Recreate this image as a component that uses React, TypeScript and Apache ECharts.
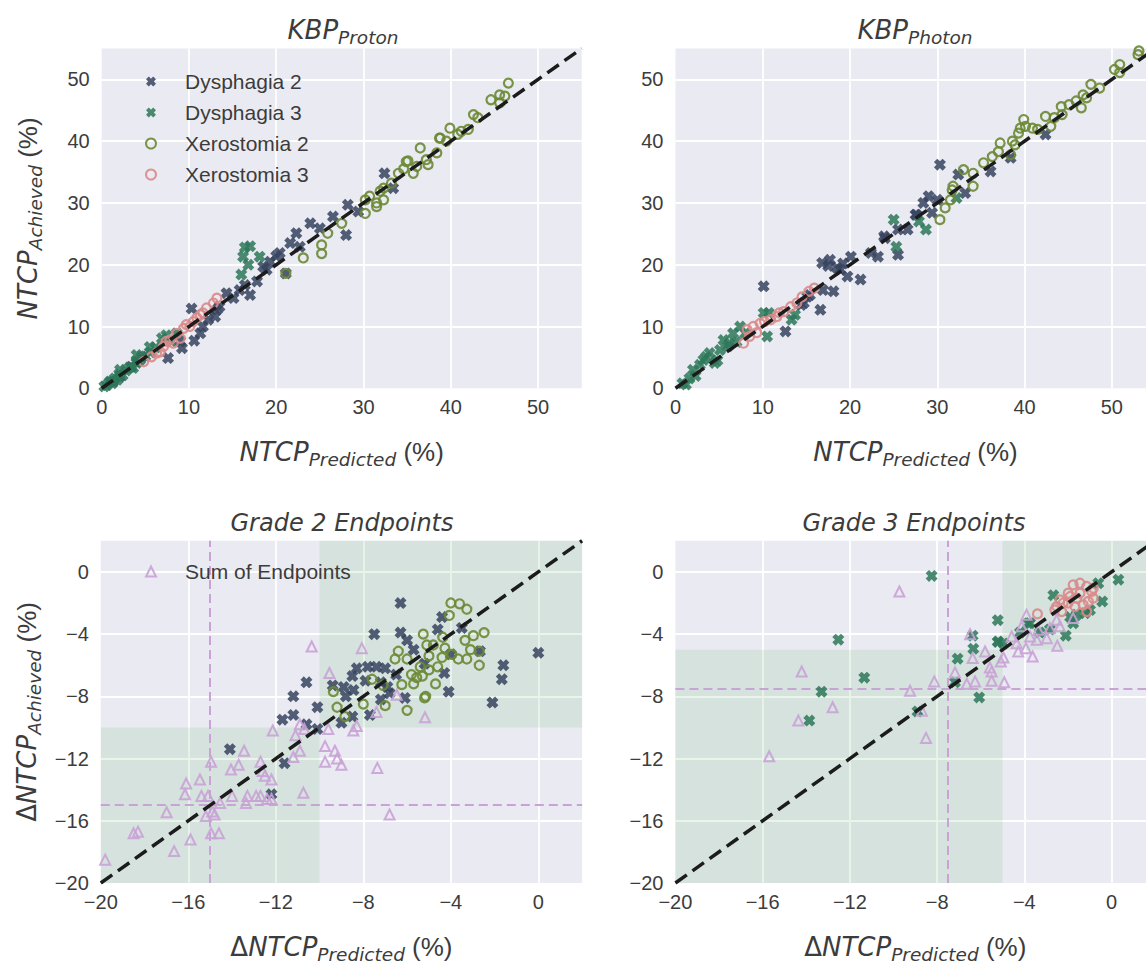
import React, { useEffect, useRef } from 'react';
import * as echarts from 'echarts';

// ---------- axis extents & ticks ----------
const topRange = [0, 55];
const bottomRange = [-20, 2];
const topTicks = [0, 10, 20, 30, 40, 50];
const bottomTicks = [-20, -16, -12, -8, -4, 0];

// ---------- KBP Proton ----------
const proD2 = [[1.3,1.1],[2.1,1.9],[3.4,3.5],[4.0,4.3],[4.6,5.1],[7.6,4.9],[9.0,7.6],[9.2,6.5],[10.6,7.7],[10.3,12.9],[11.3,8.9],[11.6,10.0],[12.2,11.1],[13.0,11.6],[13.2,12.7],[13.5,13.2],[14.3,15.4],[15.1,14.6],[15.8,15.9],[16.4,16.7],[17.0,15.1],[17.8,17.3],[18.5,19.7],[18.9,19.2],[19.3,20.5],[20.0,21.4],[20.4,21.9],[21.1,18.6],[21.6,23.5],[22.3,25.1],[22.7,22.9],[23.9,26.7],[25.0,25.9],[26.5,27.8],[28.0,24.8],[28.2,29.7],[29.4,28.6],[32.4,34.8],[33.4,32.4]];
const proD3 = [[0.3,0.3],[0.6,0.5],[0.9,1.0],[1.0,1.1],[1.2,0.8],[1.5,1.6],[1.8,1.4],[2.0,2.3],[2.1,3.0],[2.4,2.1],[2.8,2.9],[3.2,3.4],[3.6,3.3],[4.0,4.1],[4.0,5.4],[4.4,4.6],[5.0,5.2],[5.5,6.7],[5.6,5.8],[6.2,6.6],[6.9,8.1],[7.4,8.6],[8.0,7.6],[8.6,8.9],[16.0,18.4],[16.2,21.3],[16.8,20.0],[17.0,23.0],[16.4,22.8],[18.1,21.3]];
const proX2 = [[21.1,18.6],[23.1,21.1],[25.2,21.8],[25.2,23.2],[25.9,25.1],[27.5,26.7],[30.2,28.3],[30.2,30.5],[30.7,31.1],[31.5,29.4],[31.5,30.0],[31.9,31.9],[32.3,30.5],[32.3,32.4],[33.2,33.2],[34.0,34.8],[34.6,35.5],[34.9,36.7],[35.1,36.8],[35.7,34.8],[36.1,35.9],[36.5,38.9],[37.2,37.0],[37.4,36.2],[38.4,38.1],[38.7,40.5],[38.8,40.5],[39.5,40.0],[39.9,42.1],[40.8,41.1],[41.2,41.6],[42.0,41.9],[42.6,44.3],[43.1,43.8],[44.6,46.7],[45.6,46.2],[45.6,47.5],[46.2,47.3],[46.6,49.4]];
const proX3 = [[4.8,4.3],[5.7,5.1],[6.3,5.7],[6.7,5.9],[7.1,6.8],[7.4,7.6],[7.8,7.8],[8.2,7.3],[8.6,8.9],[9.0,8.1],[9.4,9.7],[9.7,10.3],[10.1,10.0],[10.5,10.8],[10.9,11.4],[11.3,11.9],[11.6,12.2],[12.0,13.0],[12.8,13.8],[13.2,14.6]];

// ---------- KBP Photon ----------
const phoD2 = [[10.1,16.5],[12.6,9.2],[14.4,13.5],[14.7,13.8],[15.1,14.8],[15.4,15.1],[16.6,12.7],[16.8,20.3],[16.9,15.9],[17.5,19.8],[17.7,20.8],[18.1,15.7],[18.5,19.5],[18.9,19.2],[19.2,20.2],[19.7,18.1],[20.1,21.3],[21.2,17.6],[22.4,21.9],[23.2,21.3],[23.9,24.6],[24.0,24.3],[25.5,21.6],[25.5,25.7],[26.6,25.7],[27.5,28.1],[27.6,28.1],[28.4,30.0],[29.0,31.1],[29.4,28.4],[30.0,30.5],[30.3,36.2],[32.4,34.6],[33.2,31.6],[36.1,35.1],[38.4,37.3],[42.4,41.1]];
const phoD3 = [[0.8,0.8],[1.2,0.6],[1.6,1.6],[2.0,3.0],[2.3,2.0],[2.8,3.8],[3.2,4.6],[3.5,5.1],[3.9,5.7],[4.5,4.1],[4.8,4.5],[5.1,6.2],[5.5,7.8],[6.0,6.8],[6.2,7.3],[6.6,8.9],[7.0,7.5],[7.4,10.0],[8.0,8.9],[10.1,12.2],[10.5,8.4],[10.7,12.2],[13.3,11.1],[13.7,11.9],[25.0,27.3],[25.3,22.9],[27.9,27.0],[28.7,25.7],[32.2,30.8]];
const phoX2 = [[30.3,27.3],[30.9,29.2],[31.5,30.5],[31.7,32.1],[31.8,32.7],[33.0,35.4],[34.1,32.7],[34.1,34.8],[35.3,36.5],[36.3,37.5],[37.0,38.3],[37.2,39.7],[38.4,37.8],[38.6,40.0],[38.9,39.4],[39.3,41.3],[39.5,42.1],[39.9,43.5],[40.1,42.4],[40.9,42.1],[41.5,41.9],[42.4,44.0],[43.0,42.4],[43.4,43.8],[44.2,45.6],[44.3,44.3],[45.1,45.9],[45.9,46.5],[46.5,45.4],[46.7,47.5],[47.1,47.0],[47.6,49.2],[48.6,48.6],[50.3,51.6],[50.9,52.4],[50.9,51.1],[53.0,54.0],[53.1,54.6]];
const phoX3 = [[7.8,7.3],[8.2,9.5],[8.5,8.4],[8.9,10.0],[9.3,9.0],[9.7,10.5],[10.2,10.8],[10.9,11.1],[11.6,11.6],[11.9,12.2],[12.4,12.4],[13.2,13.2],[13.9,13.8],[14.5,14.8],[15.3,15.7],[15.9,16.2]];

// ---------- Grade 2 endpoints ----------
const g2D2 = [[-6.3,-2.0],[-4.4,-2.9],[-7.5,-4.0],[-3.5,-3.6],[-6.3,-3.9],[-4.6,-3.7],[-2.67,-5.1],[0.0,-5.2],[-1.6,-6.0],[-1.67,-6.9],[-2.1,-8.4],[-4.1,-7.7],[-4.3,-6.5],[-5.7,-5.0],[-6.0,-4.4],[-8.3,-6.2],[-7.8,-6.1],[-7.4,-6.1],[-7.0,-6.2],[-8.5,-6.7],[-8.9,-7.4],[-8.45,-7.6],[-9.4,-7.3],[-10.6,-7.1],[-11.2,-8.0],[-10.1,-8.7],[-11.2,-9.2],[-11.7,-9.5],[-10.6,-9.8],[-9.0,-9.7],[-8.5,-9.3],[-7.7,-9.2],[-7.2,-8.2],[-6.8,-7.8],[-6.1,-8.1],[-4.0,-5.3],[-11.6,-12.3],[-14.1,-11.4],[-12.2,-14.3],[-5.2,-5.9],[-7.2,-7.1],[-6.9,-7.4],[-10.1,-10.1],[-8.8,-8.0],[-7.9,-7.0],[-6.5,-6.6]];
const g2X2 = [[-4.0,-2.0],[-3.6,-2.05],[-3.27,-2.4],[-4.07,-2.8],[-2.48,-3.9],[-2.97,-4.1],[-3.35,-4.4],[-2.7,-5.1],[-3.1,-5.0],[-3.27,-5.6],[-2.7,-6.0],[-3.66,-5.6],[-3.96,-5.3],[-4.27,-4.9],[-4.37,-4.2],[-5.26,-4.0],[-5.1,-4.7],[-4.8,-4.7],[-4.4,-5.5],[-4.6,-6.1],[-5.0,-6.3],[-5.4,-6.1],[-6.0,-5.6],[-6.4,-5.1],[-6.55,-5.6],[-5.8,-6.6],[-5.56,-6.8],[-5.7,-7.2],[-6.24,-7.25],[-4.7,-7.2],[-5.15,-8.0],[-6.0,-8.9],[-7.0,-8.6],[-7.6,-6.9],[-7.1,-7.3],[-8.0,-8.5],[-9.2,-8.7],[-8.84,-9.3],[-9.37,-7.7],[-5.3,-6.7],[-5.0,-5.4],[-5.2,-8.1]];
const g2Sum = [[-10.36,-4.8],[-8.07,-4.9],[-9.55,-6.5],[-6.47,-7.9],[-7.4,-9.0],[-5.18,-9.35],[-7.36,-12.6],[-6.8,-15.6],[-12.14,-10.2],[-10.9,-9.8],[-10.7,-10.1],[-11.1,-10.5],[-9.6,-10.1],[-8.46,-10.2],[-8.3,-9.9],[-9.75,-11.2],[-9.3,-11.5],[-9.2,-12.0],[-9.0,-12.4],[-9.75,-12.2],[-10.9,-11.5],[-11.2,-11.9],[-10.74,-14.2],[-13.45,-11.5],[-12.7,-12.2],[-14.05,-12.7],[-13.7,-12.4],[-14.96,-12.2],[-15.47,-13.35],[-16.1,-13.6],[-16.15,-14.3],[-15.4,-14.4],[-15.1,-14.4],[-14.0,-14.4],[-12.5,-13.1],[-12.2,-13.35],[-12.6,-12.8],[-13.3,-14.4],[-13.36,-14.85],[-12.9,-14.4],[-12.7,-14.4],[-12.4,-14.6],[-12.2,-14.6],[-14.55,-14.85],[-14.8,-15.6],[-15.2,-15.7],[-16.99,-15.45],[-18.5,-16.8],[-18.3,-16.7],[-15.9,-17.2],[-16.65,-17.95],[-14.96,-16.8],[-14.6,-16.8],[-19.8,-18.5],[-14.9,-15.4]];

// ---------- Grade 3 endpoints ----------
const g3D3 = [[-8.25,-0.26],[-12.53,-4.36],[-11.34,-6.8],[-13.3,-7.7],[-13.86,-9.56],[-8.9,-8.97],[-7.18,-7.1],[-7.06,-5.58],[-6.34,-4.94],[-6.37,-4.1],[-6.07,-8.07],[-5.22,-3.1],[-5.22,-4.5],[-4.96,-4.6],[-2.67,-1.5],[0.31,-0.5],[-0.43,-1.9],[-2.1,-4.1],[-1.22,-2.65],[-0.99,-2.45],[-1.76,-3.3],[-0.61,-0.73],[-3.82,-3.3],[-3.3,-3.9],[-2.83,-3.7],[-1.9,-2.9],[-5.2,-4.47],[-1.6,-2.76],[-3.74,-3.3],[-4.2,-3.9]];
const g3X3 = [[-1.76,-0.83],[-1.45,-0.73],[-1.14,-0.94],[-0.91,-1.26],[-0.84,-1.69],[-1.07,-1.9],[-1.45,-1.37],[-1.9,-1.58],[-2.22,-2.0],[-2.52,-2.23],[-1.99,-2.0],[-1.68,-2.23],[-1.3,-2.12],[-1.6,-1.69],[-3.4,-2.7],[-1.99,-1.37],[-0.84,-1.05],[-2.6,-2.44],[-2.29,-2.55],[-1.14,-2.55],[-2.37,-1.8]];
const g3Sum = [[-9.73,-1.26],[-14.21,-6.4],[-12.79,-8.7],[-14.36,-9.56],[-15.7,-11.85],[-9.24,-7.64],[-8.13,-7.04],[-8.7,-8.92],[-8.51,-10.67],[-7.18,-6.46],[-6.64,-7.19],[-6.26,-7.04],[-6.49,-4.0],[-6.37,-5.54],[-5.8,-5.12],[-5.58,-6.14],[-5.5,-6.4],[-5.5,-7.0],[-4.92,-7.1],[-5.08,-5.76],[-4.96,-5.5],[-4.58,-4.15],[-4.28,-5.12],[-3.93,-4.9],[-3.62,-5.44],[-3.9,-2.76],[-4.12,-3.5],[-3.43,-4.36],[-2.97,-4.26],[-2.49,-4.75],[-2.52,-3.08],[-1.76,-2.97],[-2.37,-3.5],[-3.36,-3.72],[-3.74,-4.15],[-4.35,-4.58],[-2.83,-3.62]];

// thresholds (dashed lines) and shaded zones [x0, y0, x1, y1]
const g2Threshold = -15;
const g3Threshold = -7.5;
const g2Zones = [[-10, -10, 2, 2], [-20, -20, -10, -10]];
const g3Zones = [[-5, -5, 2, 2], [-20, -20, -5, -5]];

const legendNames = ['Dysphagia 2', 'Dysphagia 3', 'Xerostomia 2', 'Xerostomia 3'];
const sumName = 'Sum of Endpoints';

const C = {
  navy: '#36435f',
  green: '#2d7859',
  olive: '#6c8a34',
  salmon: '#d98a89',
  lav: '#c9a2d6',
  bg: '#EAEAF2',
  text: '#3c3c3c',
};

const XPATH = 'path://M2.8,0 L5,2.2 L7.2,0 L10,2.8 L7.8,5 L10,7.2 L7.2,10 L5,7.8 L2.8,10 L0,7.2 L2.2,5 L0,2.8 Z';
const MATH = 'DejaVu Sans';
const SANS = 'Liberation Sans';

const rich = {
  m: { fontFamily: MATH, fontStyle: 'italic', fontWeight: 'normal', fontSize: 26, color: C.text },
  g: { fontFamily: MATH, fontStyle: 'italic', fontWeight: 'normal', fontSize: 24, color: C.text },
  d: { fontFamily: MATH, fontWeight: 'normal', fontSize: 26, color: C.text },
  s: { fontFamily: MATH, fontStyle: 'italic', fontWeight: 'normal', fontSize: 18.5, color: C.text, padding: [15, 0, 0, 0] },
  r: { fontFamily: SANS, fontWeight: 'normal', fontSize: 26, color: C.text },
};

const fmtNum = (v: number) => (v < 0 ? '\u2212' + -v : '' + v);

const grids = [
  { left: 101.7, top: 48.5, width: 480, height: 339.8 },
  { left: 675.5, top: 48.5, width: 480, height: 339.8 },
  { left: 100.8, top: 540.8, width: 481.3, height: 342.8 },
  { left: 675.4, top: 540.8, width: 479.8, height: 342.8 },
];

function axis(dim: 'x' | 'y', gi: number, range: number[], ticks: number[], name: string, nameGap: number) {
  return {
    type: 'value',
    gridIndex: gi,
    min: range[0],
    max: range[1],
    interval: ticks[1] - ticks[0],
    axisLine: { show: false },
    axisTick: { show: false },
    splitLine: { show: true, showMaxLine: false, showMinLine: false, lineStyle: { color: '#ffffff', width: 1.8 } },
    axisLabel: {
      color: C.text,
      fontSize: 20,
      fontFamily: SANS,
      margin: dim === 'x' ? 9 : 12,
      showMaxLabel: false,
      formatter: (v: number) => (ticks.indexOf(v) >= 0 ? fmtNum(v) : ''),
    },
    name,
    nameLocation: 'middle',
    nameGap,
    nameRotate: dim === 'y' ? 90 : 0,
    nameTextStyle: { rich },
  };
}

function scatter(name: string, data: number[][], gi: number, kind: 'x' | 'o' | 't', color: string) {
  const base: any = {
    type: 'scatter',
    name,
    data,
    xAxisIndex: gi,
    yAxisIndex: gi,
    z: 2,
  };
  if (kind === 'x') {
    base.symbol = XPATH;
    base.symbolSize = 12;
    base.itemStyle = { color, opacity: 0.85 };
  } else if (kind === 'o') {
    base.symbol = 'circle';
    base.symbolSize = 9;
    base.itemStyle = { color: 'rgba(0,0,0,0)', borderColor: color, borderWidth: 2.2, opacity: 0.9 };
  } else {
    base.symbol = 'triangle';
    base.symbolSize = 10;
    base.itemStyle = { color: 'rgba(0,0,0,0)', borderColor: color, borderWidth: 2, opacity: 0.9 };
  }
  return base;
}

function identity(gi: number, range: number[]) {
  return {
    type: 'line',
    name: 'identity' + gi,
    xAxisIndex: gi,
    yAxisIndex: gi,
    data: [[range[0], range[0]], [range[1], range[1]]],
    symbol: 'none',
    z: 6,
    lineStyle: { color: '#1c1c1c', width: 3.5, type: [14, 7] },
    silent: true,
  };
}

function helper(gi: number, zones: number[][], thr: number) {
  return {
    type: 'scatter',
    name: 'zones' + gi,
    xAxisIndex: gi,
    yAxisIndex: gi,
    data: [],
    z: 1,
    silent: true,
    markArea: {
      silent: true,
      z: 1,
      itemStyle: { color: 'rgba(44,160,44,0.1)', borderWidth: 0 },
      data: zones.map((zn) => [{ xAxis: zn[0], yAxis: zn[1] }, { xAxis: zn[2], yAxis: zn[3] }]),
    },
    markLine: {
      silent: true,
      z: 1,
      symbol: 'none',
      label: { show: false },
      lineStyle: { color: C.lav, width: 2, type: [9, 5] },
      data: [{ xAxis: thr }, { yAxis: thr }],
    },
  };
}

const titleStyle = (text: string, left: number, top: number) => ({
  text,
  left,
  top,
  textAlign: 'center',
  textStyle: { rich, fontWeight: 'normal' },
});

const legendBase = {
  orient: 'vertical',
  left: 140,
  itemWidth: 10,
  itemHeight: 10,
  itemGap: 10,
  selectedMode: false,
  textStyle: { fontSize: 21, color: C.text, fontFamily: SANS, padding: [0, 0, 0, 24] },
};

export default function App() {
  const ref = useRef<HTMLDivElement>(null);
  useEffect(() => {
    if (!ref.current) return;
    const chart = echarts.init(ref.current, undefined, { renderer: 'svg' });
    const xName = '{m|NTCP}{s|Predicted}{r| (%)}';
    const yName = '{m|NTCP}{s|Achieved}{r| (%)}';
    const dxName = '{d|\u0394}{m|NTCP}{s|Predicted}{r| (%)}';
    const dyName = '{d|\u0394}{m|NTCP}{s|Achieved}{r| (%)}';
    const option: any = {
      animation: false,
      backgroundColor: '#ffffff',
      textStyle: { fontFamily: SANS },
      title: [
        titleStyle('{m|KBP}{s|Proton}', 338, 8),
        titleStyle('{m|KBP}{s|Photon}', 910, 8),
        titleStyle('{g|Grade 2 Endpoints}', 337, 506),
        titleStyle('{g|Grade 3 Endpoints}', 909, 506),
      ],
      grid: grids.map((g) => ({ ...g, show: true, backgroundColor: C.bg, borderWidth: 0, containLabel: false })),
      xAxis: [
        axis('x', 0, topRange, topTicks, xName, 47),
        axis('x', 1, topRange, topTicks, xName, 47),
        axis('x', 2, bottomRange, bottomTicks, dxName, 47),
        axis('x', 3, bottomRange, bottomTicks, dxName, 47),
      ],
      yAxis: [
        axis('y', 0, topRange, topTicks, yName, 57),
        axis('y', 1, topRange, topTicks, '', 57),
        axis('y', 2, bottomRange, bottomTicks, dyName, 57),
        axis('y', 3, bottomRange, bottomTicks, '', 57),
      ],
      legend: [
        { ...legendBase, data: legendNames, top: 66 },
        { ...legendBase, data: [sumName], top: 556 },
      ],
      series: [
        scatter('Dysphagia 2', proD2, 0, 'x', C.navy),
        scatter('Dysphagia 3', proD3, 0, 'x', C.green),
        scatter('Xerostomia 2', proX2, 0, 'o', C.olive),
        scatter('Xerostomia 3', proX3, 0, 'o', C.salmon),
        identity(0, topRange),
        scatter('Dysphagia 2', phoD2, 1, 'x', C.navy),
        scatter('Dysphagia 3', phoD3, 1, 'x', C.green),
        scatter('Xerostomia 2', phoX2, 1, 'o', C.olive),
        scatter('Xerostomia 3', phoX3, 1, 'o', C.salmon),
        identity(1, topRange),
        helper(2, g2Zones, g2Threshold),
        scatter('Dysphagia 2', g2D2, 2, 'x', C.navy),
        scatter('Xerostomia 2', g2X2, 2, 'o', C.olive),
        scatter(sumName, g2Sum, 2, 't', C.lav),
        identity(2, bottomRange),
        helper(3, g3Zones, g3Threshold),
        scatter('Dysphagia 3', g3D3, 3, 'x', C.green),
        scatter('Xerostomia 3', g3X3, 3, 'o', C.salmon),
        scatter(sumName, g3Sum, 3, 't', C.lav),
        identity(3, bottomRange),
      ],
    };
    chart.setOption(option);
    return () => chart.dispose();
  }, []);
  return (
    <div
      ref={ref}
      style={{ position: 'fixed', left: 0, top: 0, width: 1160, height: 965, background: '#fff' }}
    />
  );
}
